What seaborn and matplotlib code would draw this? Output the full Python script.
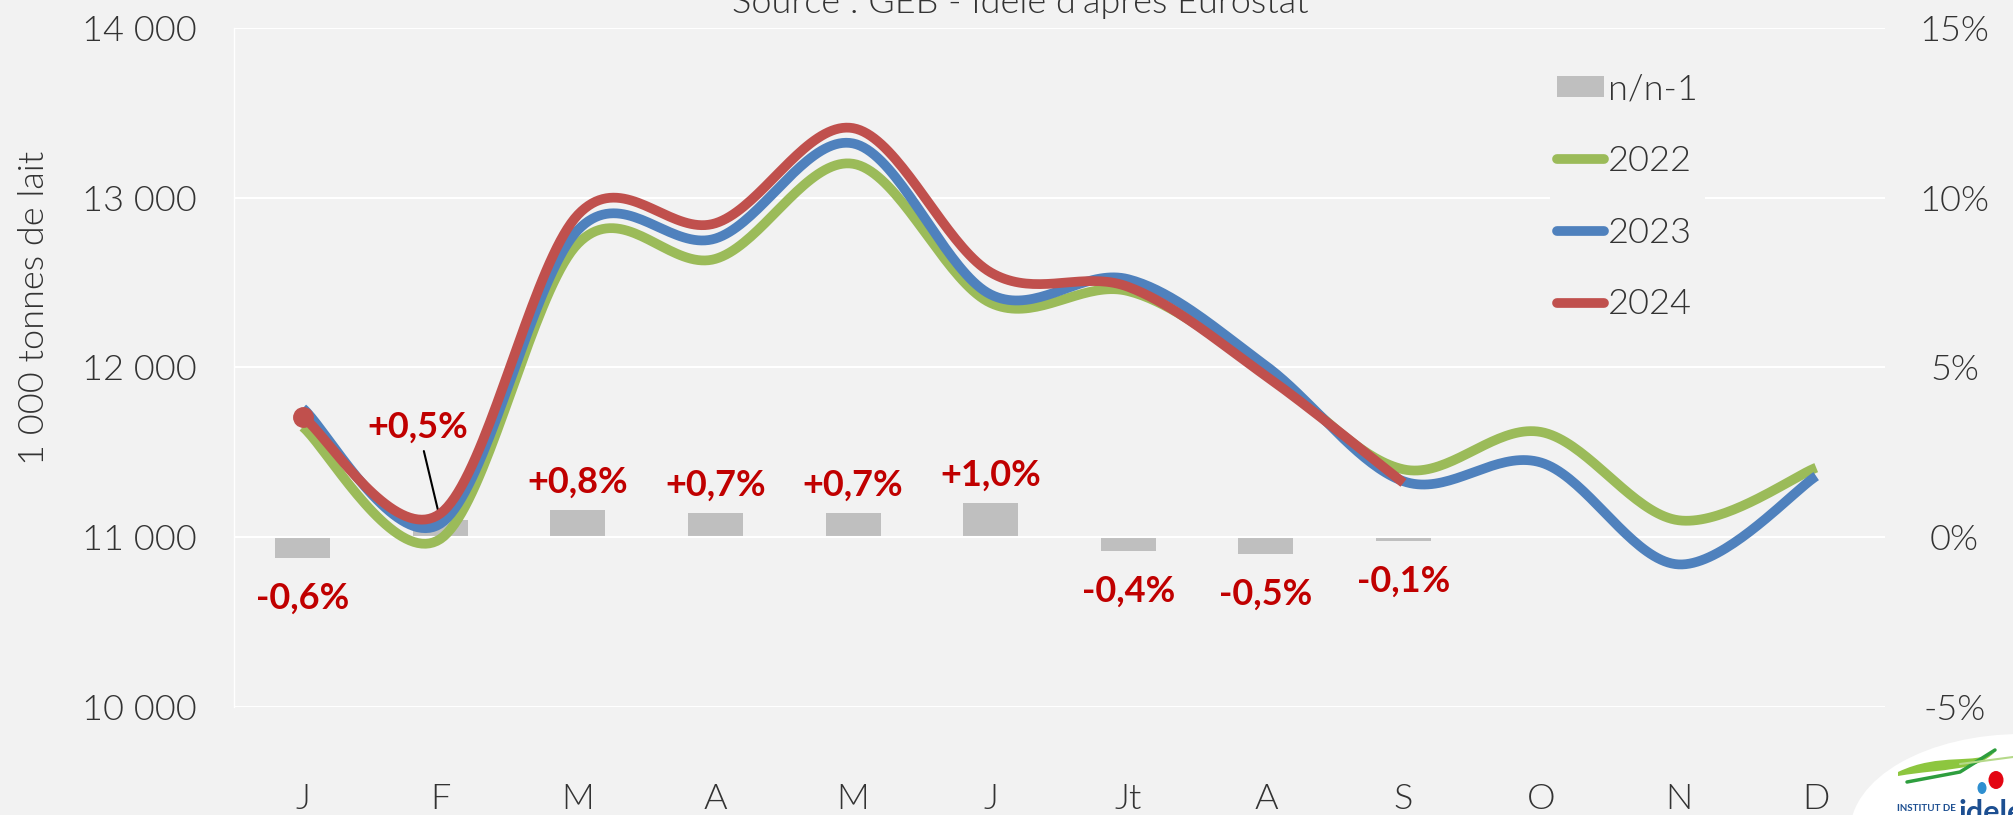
import numpy as np
import pandas as pd
import matplotlib
matplotlib.use("Agg")
import matplotlib.pyplot as plt
import seaborn as sns
from matplotlib.patches import Patch, Ellipse, PathPatch
from matplotlib.lines import Line2D
from matplotlib.path import Path

# Données (1 000 t de lait, UE)
mois = ["J", "F", "M", "A", "M", "J", "Jt", "A", "S", "O", "N", "D"]
prod_2022 = [11650, 10990, 12730, 12640, 13200, 12380, 12450, 11970, 11400, 11620, 11100, 11410]
prod_2023 = [11760, 11080, 12810, 12760, 13320, 12430, 12520, 12010, 11330, 11440, 10840, 11360]
prod_2024 = [11710, 11140, 12900, 12850, 13410, 12560, 12475, 11950, 11320, np.nan, np.nan, np.nan]
evol_pct = [-0.6, 0.5, 0.8, 0.7, 0.7, 1.0, -0.4, -0.5, -0.1, np.nan, np.nan, np.nan]
evol_labels = ["-0,6%", "+0,5%", "+0,8%", "+0,7%", "+0,7%", "+1,0%", "-0,4%", "-0,5%", "-0,1%"]

left_ticks = [10000, 11000, 12000, 13000, 14000]
right_ticks = [-5, 0, 5, 10, 15]

BG = "#F2F2F2"
TXT = "#333333"
LABEL_RED = "#C00000"
colors = {"2022": "#9BBB59", "2023": "#4F81BD", "2024": "#C0504D"}
FS = 26
LIGHT = 300


def excel_smooth(values, n=40):
    '''Courbe lissée façon Excel (Bézier / Catmull-Rom) passant par les points.'''
    y = np.asarray(values, dtype=float)
    x = np.arange(len(y), dtype=float)
    ok = ~np.isnan(y)
    pts = np.column_stack([x[ok], y[ok]])
    xs, ys = [], []
    t = np.linspace(0, 1, n)[:, None]
    for i in range(len(pts) - 1):
        p0 = pts[max(i - 1, 0)]
        p1 = pts[i]
        p2 = pts[i + 1]
        p3 = pts[min(i + 2, len(pts) - 1)]
        c1 = p1 + (p2 - p0) / 6
        c2 = p2 - (p3 - p1) / 6
        seg = ((1 - t) ** 3) * p1 + 3 * ((1 - t) ** 2) * t * c1 + 3 * (1 - t) * t ** 2 * c2 + t ** 3 * p2
        if i > 0:
            seg = seg[1:]
        xs.append(seg[:, 0])
        ys.append(seg[:, 1])
    return np.concatenate(xs), np.concatenate(ys)


sns.set_theme(style="white")
plt.rcParams["font.family"] = ["Lato", "DejaVu Sans"]

fig = plt.figure(figsize=(20.13, 8.15), dpi=100, facecolor=BG)
ax = fig.add_axes([234 / 2013, 1 - 707 / 815, 1651 / 2013, 679 / 815])
ax2 = ax.twinx()
fig.patch.set_facecolor(BG)
ax2.patch.set_visible(True)
ax2.patch.set_facecolor(BG)
ax.set_zorder(ax2.get_zorder() + 1)
ax.patch.set_visible(False)

# barres n/n-1 (axe secondaire)
bars = pd.DataFrame({"pos": np.arange(len(mois)), "evol": evol_pct}).dropna()
sns.barplot(data=bars, x="pos", y="evol", ax=ax2, native_scale=True, width=0.4,
            color="#BFBFBF", saturation=1, errorbar=None, edgecolor="none")

for i, (v, lab) in enumerate(zip(bars["evol"], evol_labels)):
    if i == 1:
        ax2.annotate(lab, xy=(i, v), xytext=(-16, 67), textcoords="offset points",
                     ha="center", va="center", fontsize=FS, fontweight="bold", color=LABEL_RED,
                     arrowprops=dict(arrowstyle="-", color="black", lw=1.5, shrinkA=3, shrinkB=0))
    elif v >= 0:
        ax2.annotate(lab, xy=(i, v), xytext=(0, 20), textcoords="offset points",
                     ha="center", va="center", fontsize=FS, fontweight="bold", color=LABEL_RED)
    else:
        ax2.annotate(lab, xy=(i, v), xytext=(0, -29), textcoords="offset points",
                     ha="center", va="center", fontsize=FS, fontweight="bold", color=LABEL_RED)

# courbes lissées
for year, vals in [("2022", prod_2022), ("2023", prod_2023), ("2024", prod_2024)]:
    xs, ys = excel_smooth(vals)
    sns.lineplot(x=xs, y=ys, ax=ax, color=colors[year], lw=7, estimator=None,
                 sort=False, solid_capstyle="butt")
ax.plot([0], [prod_2024[0]], marker="o", ms=14, color=colors["2024"], ls="none")

# axes
ax.set_xlim(-0.5, len(mois) - 0.5)
ax.set_ylim(left_ticks[0], left_ticks[-1])
ax.set_yticks(left_ticks)
ax.set_yticklabels([f"{v:,}".replace(",", " ") for v in left_ticks], fontweight=LIGHT)
ax.set_xticks(np.arange(len(mois)))
ax.set_xticklabels(mois, fontweight=LIGHT)
ax.set_xticks(np.arange(len(mois) + 1) - 0.5, minor=True)
ax.tick_params(axis="x", which="major", length=0, pad=55, labelsize=FS, labelcolor=TXT)
ax.tick_params(axis="x", which="minor", length=10, color="white", width=1)
ax.tick_params(axis="y", length=0, pad=27, labelsize=FS, labelcolor=TXT)
ax.grid(axis="y", color="white", lw=1.5)
ax.grid(axis="x", visible=False)
ax.set_xlabel("")
ax.set_ylabel("")

ax2.set_ylim(right_ticks[0], right_ticks[-1])
ax2.set_yticks(right_ticks)
ax2.set_yticklabels([f"{v}%" for v in right_ticks], fontweight=LIGHT)
ax2.tick_params(axis="y", length=0, pad=50, labelsize=FS, labelcolor=TXT)
for lab in ax2.get_yticklabels():
    lab.set_horizontalalignment("center")
ax2.set_ylabel("")
ax2.grid(False)

for a in (ax, ax2):
    for s in a.spines.values():
        s.set_visible(False)
ax.spines["left"].set_visible(True)
ax.spines["left"].set_color("white")
ax.spines["left"].set_linewidth(1)

# légende (fond opaque qui coupe le quadrillage)
handles = [Patch(facecolor="#BFBFBF", edgecolor="none"),
           Line2D([], [], color=colors["2022"], lw=7),
           Line2D([], [], color=colors["2023"], lw=7),
           Line2D([], [], color=colors["2024"], lw=7, solid_capstyle="round")]
leg = ax.legend(handles, ["n/n-1", "2022", "2023", "2024"], loc="upper left",
                bbox_to_anchor=(0.797, 0.944), frameon=True, facecolor=BG, edgecolor="none",
                framealpha=1, fancybox=False, fontsize=FS, labelcolor=TXT,
                handlelength=1.3, handleheight=0.55, handletextpad=0.1, labelspacing=1.1,
                borderpad=0.2, borderaxespad=0)
for t in leg.get_texts():
    t.set_fontweight(LIGHT)

# textes
fig.text(34 / 2013, 1 - 308 / 815, "1 000 tonnes de lait", rotation=90, ha="center", va="center",
         fontsize=FS, color=TXT, fontweight=LIGHT)
fig.text(1020 / 2013, 1 - 13 / 815, "Source : GEB - Idele d'après Eurostat", ha="center",
         va="baseline", fontsize=FS, color=TXT, fontweight=LIGHT)

# logo Idele (approximation)
fig.patches.append(Ellipse((2022 / 2013, 1 - 832 / 815), 344 / 2013, 196 / 815,
                           transform=fig.transFigure, facecolor="white", edgecolor="none"))
swoosh = Path([(1898, 772), (1940, 752), (1975, 765), (1995, 752),
               (1975, 772), (1945, 768), (1898, 776)],
              [Path.MOVETO, Path.CURVE4, Path.CURVE4, Path.CURVE4,
               Path.CURVE4, Path.CURVE4, Path.CURVE4])
swoosh = Path([(x / 2013, 1 - y / 815) for x, y in swoosh.vertices], swoosh.codes)
fig.patches.append(PathPatch(swoosh, transform=fig.transFigure, facecolor="#8DC63F", edgecolor="none"))
fig.lines.append(Line2D([1907 / 2013, 1960 / 2013, 1995 / 2013],
                        [1 - 782 / 815, 1 - 772 / 815, 1 - 750 / 815],
                        transform=fig.transFigure, color="#2E9E3E", lw=2.5))
fig.lines.append(Line2D([1960 / 2013, 2013 / 2013],
                        [1 - 764 / 815, 1 - 757 / 815],
                        transform=fig.transFigure, color="#B5D98A", lw=1.5))
fig.patches.append(Ellipse((1996 / 2013, 1 - 780 / 815), 15 / 2013, 18 / 815,
                           transform=fig.transFigure, facecolor="#E30613", edgecolor="none"))
fig.patches.append(Ellipse((1982 / 2013, 1 - 788 / 815), 9 / 2013, 12 / 815,
                           transform=fig.transFigure, facecolor="#2F8FD0", edgecolor="none"))
fig.text(1897 / 2013, 1 - 811 / 815, "INSTITUT DE", fontsize=7, fontweight="bold",
         color="#1D4F91", ha="left", va="baseline")
fig.text(1959 / 2013, 1 - 822 / 815, "idele", fontsize=22, fontweight="bold",
         color="#1D4F91", ha="left", va="baseline")

fig.savefig("out.png", dpi=100, facecolor=BG)
